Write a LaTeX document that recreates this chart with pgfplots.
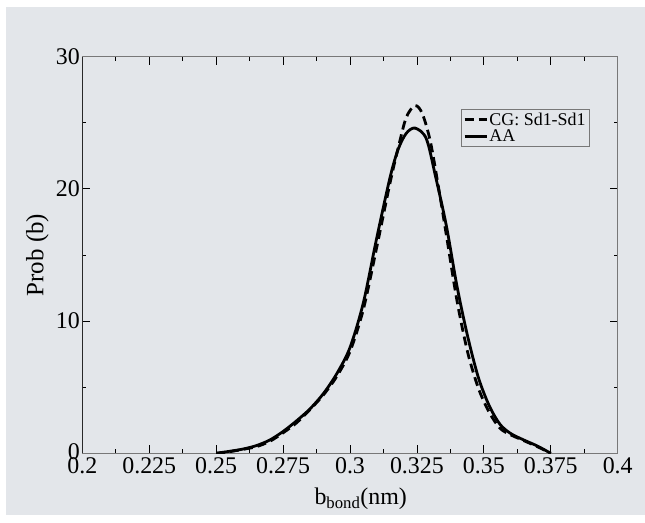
\documentclass[border=0pt]{standalone}
\usepackage{pgfplots}
\pgfplotsset{compat=1.18}
\usepackage{fontspec}
\setmainfont{Liberation Serif}
\definecolor{bg}{RGB}{227,230,234}
\definecolor{frame}{RGB}{120,120,120}
\begin{document}
\begin{tikzpicture}[x=1bp,y=1bp]
\useasboundingbox (0,0) rectangle (645,523);
\fill[white] (0,0) rectangle (645,523);
\fill[bg] (6,8) rectangle (645,516);
\begin{axis}[
  at={(82.3bp,69.7bp)}, anchor=south west,
  scale only axis, width=535.4bp, height=396.6bp,
  xmin=0.2, xmax=0.4, ymin=0, ymax=30,
  xtick={0.2,0.225,...,0.401},
  xticklabels={0.2,0.225,0.25,0.275,0.3,0.325,0.35,0.375,0.4},
  ytick={0,10,20,30},
  yticklabels={\raisebox{4bp}{0},10,20,30},
  minor x tick num=1, minor y tick num=1,
  tick align=inside,
  major tick length=8bp, minor tick length=4bp,
  every tick/.style={black, line width=0.8bp},
  axis line style={frame, line width=0.9bp},
  /pgf/number format/assume math mode=true,
  tick label style={font=\fontsize{24}{26}\selectfont},
  xticklabel style={yshift=-1bp},
  yticklabel style={xshift=1bp},
  xlabel={b\textsubscript{bond}(nm)},
  ylabel={Prob (b)},
  xlabel style={font=\fontsize{24}{26}\selectfont, at={(axis description cs:0.52,0)}, anchor=north, yshift=-31bp},
  ylabel style={font=\fontsize{25}{28}\selectfont, at={(axis description cs:0,0.5)}, anchor=south, yshift=30bp},
  legend style={at={(1,1)}, anchor=north east, xshift=-28.2bp, yshift=-52.3bp,
    fill=bg, draw=frame, line width=0.8bp, font=\fontsize{18}{19}\selectfont,
    row sep=0bp, inner sep=2bp, nodes={inner sep=1.5bp}},
  legend cell align=left,
  legend image code/.code={\draw[#1] (0bp,0bp) -- (22bp,0bp);},
]
\addplot[black, line width=2.8bp, dash pattern=on 9bp off 5bp, smooth, tension=0.5] coordinates {
(0.250,0) (0.255,0.12) (0.260,0.30) (0.265,0.50) (0.270,0.90) (0.275,1.55)
(0.280,2.30) (0.285,3.30) (0.290,4.40) (0.295,5.80) (0.300,7.70) (0.305,10.9)
(0.310,15.6) (0.315,20.5) (0.318,23.1) (0.321,25.4) (0.3243,26.3) (0.327,25.7)
(0.330,23.6) (0.333,20.2) (0.336,16.5) (0.340,11.5) (0.344,7.6) (0.348,4.9)
(0.352,3.1) (0.356,1.9) (0.360,1.40) (0.365,0.95) (0.370,0.50) (0.375,0)
};
\addlegendentry{CG: Sd1-Sd1}
\addplot[black, line width=2.8bp, smooth, tension=0.5] coordinates {
(0.250,0) (0.255,0.15) (0.260,0.32) (0.265,0.58) (0.270,1.00) (0.275,1.65)
(0.280,2.45) (0.285,3.35) (0.290,4.50) (0.295,6.00) (0.300,8.00) (0.305,11.4)
(0.310,16.3) (0.315,20.9) (0.318,23.0) (0.321,24.2) (0.3243,24.6) (0.3285,23.8)
(0.332,20.9) (0.336,17.2) (0.340,12.6) (0.344,8.8) (0.348,5.7) (0.352,3.6)
(0.356,2.2) (0.360,1.50) (0.365,1.00) (0.370,0.55) (0.375,0)
};
\addlegendentry{AA}
\draw[black, line width=1bp] (rel axis cs:0,0) -- (rel axis cs:0,1);
\end{axis}
\end{tikzpicture}
\end{document}
